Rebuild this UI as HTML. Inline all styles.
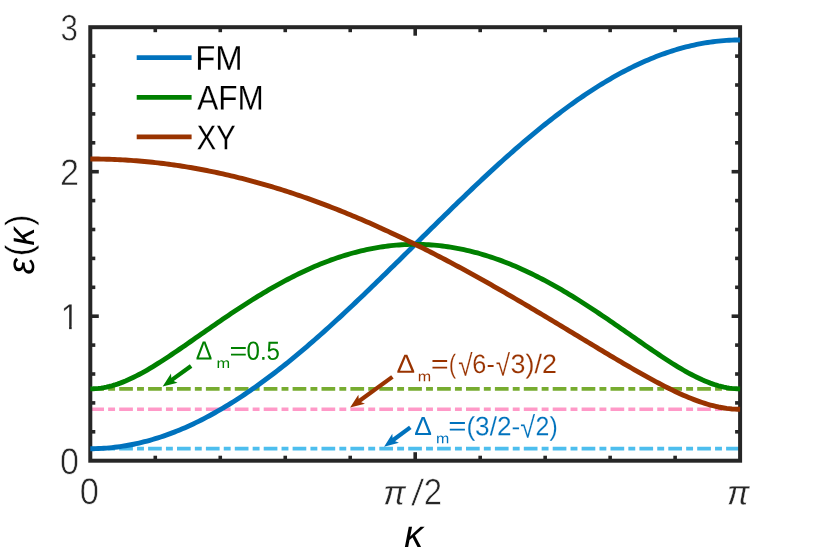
<!DOCTYPE html>
<html lang="en"><head><meta charset="utf-8"><title>Dispersion</title>
<style>
html,body{margin:0;padding:0;background:#fff;}
body{width:830px;height:553px;overflow:hidden;}
svg{display:block;will-change:transform;}
text{font-family:"Liberation Sans",sans-serif;}
</style></head>
<body>
<svg width="830" height="553" viewBox="0 0 830 553">
<rect x="0" y="0" width="830" height="553" fill="#fff"/>
<!-- dash-dot reference lines -->
<g fill="none" stroke-width="3.7" stroke-dasharray="13.7 4.15 6.9 4.15">
<line x1="90.3" y1="388.85" x2="740.1" y2="388.85" stroke="#77AC30"/>
<line x1="90.3" y1="409.27" x2="740.1" y2="409.27" stroke="#FF99C8"/>
<line x1="90.3" y1="448.70" x2="740.1" y2="448.70" stroke="#4DBEEE"/>
</g>
<!-- axes box and ticks -->
<g stroke="#262626" stroke-width="3.6" fill="none">
<line x1="155.28" y1="460.7" x2="155.28" y2="455.70"/>
<line x1="155.28" y1="27.2" x2="155.28" y2="32.20"/>
<line x1="220.26" y1="460.7" x2="220.26" y2="455.70"/>
<line x1="220.26" y1="27.2" x2="220.26" y2="32.20"/>
<line x1="285.24" y1="460.7" x2="285.24" y2="455.70"/>
<line x1="285.24" y1="27.2" x2="285.24" y2="32.20"/>
<line x1="350.22" y1="460.7" x2="350.22" y2="455.70"/>
<line x1="350.22" y1="27.2" x2="350.22" y2="32.20"/>
<line x1="415.20" y1="460.7" x2="415.20" y2="452.20"/>
<line x1="415.20" y1="27.2" x2="415.20" y2="35.70"/>
<line x1="480.18" y1="460.7" x2="480.18" y2="455.70"/>
<line x1="480.18" y1="27.2" x2="480.18" y2="32.20"/>
<line x1="545.16" y1="460.7" x2="545.16" y2="455.70"/>
<line x1="545.16" y1="27.2" x2="545.16" y2="32.20"/>
<line x1="610.14" y1="460.7" x2="610.14" y2="455.70"/>
<line x1="610.14" y1="27.2" x2="610.14" y2="32.20"/>
<line x1="675.12" y1="460.7" x2="675.12" y2="455.70"/>
<line x1="675.12" y1="27.2" x2="675.12" y2="32.20"/>
<line x1="90.3" y1="431.80" x2="95.30" y2="431.80"/>
<line x1="740.1" y1="431.80" x2="735.10" y2="431.80"/>
<line x1="90.3" y1="402.90" x2="95.30" y2="402.90"/>
<line x1="740.1" y1="402.90" x2="735.10" y2="402.90"/>
<line x1="90.3" y1="374.00" x2="95.30" y2="374.00"/>
<line x1="740.1" y1="374.00" x2="735.10" y2="374.00"/>
<line x1="90.3" y1="345.10" x2="95.30" y2="345.10"/>
<line x1="740.1" y1="345.10" x2="735.10" y2="345.10"/>
<line x1="90.3" y1="316.20" x2="98.80" y2="316.20"/>
<line x1="740.1" y1="316.20" x2="731.60" y2="316.20"/>
<line x1="90.3" y1="287.30" x2="95.30" y2="287.30"/>
<line x1="740.1" y1="287.30" x2="735.10" y2="287.30"/>
<line x1="90.3" y1="258.40" x2="95.30" y2="258.40"/>
<line x1="740.1" y1="258.40" x2="735.10" y2="258.40"/>
<line x1="90.3" y1="229.50" x2="95.30" y2="229.50"/>
<line x1="740.1" y1="229.50" x2="735.10" y2="229.50"/>
<line x1="90.3" y1="200.60" x2="95.30" y2="200.60"/>
<line x1="740.1" y1="200.60" x2="735.10" y2="200.60"/>
<line x1="90.3" y1="171.70" x2="98.80" y2="171.70"/>
<line x1="740.1" y1="171.70" x2="731.60" y2="171.70"/>
<line x1="90.3" y1="142.80" x2="95.30" y2="142.80"/>
<line x1="740.1" y1="142.80" x2="735.10" y2="142.80"/>
<line x1="90.3" y1="113.90" x2="95.30" y2="113.90"/>
<line x1="740.1" y1="113.90" x2="735.10" y2="113.90"/>
<line x1="90.3" y1="85.00" x2="95.30" y2="85.00"/>
<line x1="740.1" y1="85.00" x2="735.10" y2="85.00"/>
<line x1="90.3" y1="56.10" x2="95.30" y2="56.10"/>
<line x1="740.1" y1="56.10" x2="735.10" y2="56.10"/>
</g>
<rect x="90.3" y="27.2" width="649.80" height="433.50" fill="none" stroke="#262626" stroke-width="4"/>
<!-- curves -->
<g fill="none" stroke-width="4.9" stroke-linejoin="round" stroke-linecap="butt">
<path d="M90.30,448.70 L93.01,448.69 L95.72,448.63 L98.42,448.55 L101.13,448.42 L103.84,448.27 L106.55,448.07 L109.25,447.85 L111.96,447.58 L114.67,447.29 L117.38,446.96 L120.08,446.59 L122.79,446.19 L125.50,445.75 L128.20,445.28 L130.91,444.78 L133.62,444.24 L136.33,443.66 L139.03,443.06 L141.74,442.42 L144.45,441.74 L147.16,441.03 L149.87,440.29 L152.57,439.51 L155.28,438.70 L157.99,437.86 L160.69,436.98 L163.40,436.07 L166.11,435.13 L168.82,434.16 L171.52,433.15 L174.23,432.11 L176.94,431.04 L179.65,429.93 L182.36,428.80 L185.06,427.63 L187.77,426.43 L190.48,425.20 L193.19,423.94 L195.89,422.65 L198.60,421.33 L201.31,419.97 L204.01,418.59 L206.72,417.18 L209.43,415.74 L212.14,414.26 L214.84,412.76 L217.55,411.23 L220.26,409.68 L222.97,408.09 L225.68,406.47 L228.38,404.83 L231.09,403.16 L233.80,401.47 L236.50,399.74 L239.21,397.99 L241.92,396.21 L244.63,394.41 L247.34,392.58 L250.04,390.73 L252.75,388.85 L255.46,386.95 L258.17,385.02 L260.87,383.07 L263.58,381.09 L266.29,379.09 L269.00,377.07 L271.70,375.02 L274.41,372.95 L277.12,370.86 L279.82,368.75 L282.53,366.62 L285.24,364.47 L287.95,362.29 L290.66,360.10 L293.36,357.88 L296.07,355.65 L298.78,353.40 L301.49,351.12 L304.19,348.83 L306.90,346.53 L309.61,344.20 L312.31,341.86 L315.02,339.50 L317.73,337.12 L320.44,334.73 L323.15,332.33 L325.85,329.90 L328.56,327.47 L331.27,325.02 L333.98,322.55 L336.68,320.07 L339.39,317.58 L342.10,315.08 L344.81,312.56 L347.51,310.04 L350.22,307.50 L352.93,304.95 L355.64,302.39 L358.34,299.82 L361.05,297.24 L363.76,294.65 L366.47,292.06 L369.17,289.45 L371.88,286.84 L374.59,284.22 L377.30,281.59 L380.00,278.96 L382.71,276.32 L385.42,273.67 L388.13,271.02 L390.83,268.37 L393.54,265.71 L396.25,263.05 L398.96,260.38 L401.66,257.72 L404.37,255.05 L407.08,252.37 L409.79,249.70 L412.49,247.02 L415.20,244.35 L417.91,241.68 L420.62,239.00 L423.32,236.33 L426.03,233.65 L428.74,230.98 L431.44,228.32 L434.15,225.65 L436.86,222.99 L439.57,220.33 L442.28,217.68 L444.98,215.03 L447.69,212.38 L450.40,209.74 L453.11,207.11 L455.81,204.48 L458.52,201.86 L461.23,199.25 L463.94,196.64 L466.64,194.05 L469.35,191.46 L472.06,188.88 L474.77,186.31 L477.47,183.75 L480.18,181.20 L482.89,178.66 L485.60,176.14 L488.30,173.62 L491.01,171.12 L493.72,168.63 L496.43,166.15 L499.13,163.68 L501.84,161.23 L504.55,158.80 L507.26,156.37 L509.96,153.97 L512.67,151.58 L515.38,149.20 L518.09,146.84 L520.79,144.50 L523.50,142.17 L526.21,139.87 L528.92,137.58 L531.62,135.30 L534.33,133.05 L537.04,130.82 L539.75,128.60 L542.45,126.41 L545.16,124.23 L547.87,122.08 L550.58,119.95 L553.28,117.84 L555.99,115.75 L558.70,113.68 L561.40,111.63 L564.11,109.61 L566.82,107.61 L569.53,105.63 L572.24,103.68 L574.94,101.75 L577.65,99.85 L580.36,97.97 L583.07,96.12 L585.77,94.29 L588.48,92.49 L591.19,90.71 L593.89,88.96 L596.60,87.23 L599.31,85.54 L602.02,83.87 L604.73,82.23 L607.43,80.61 L610.14,79.02 L612.85,77.47 L615.55,75.94 L618.26,74.44 L620.97,72.96 L623.68,71.52 L626.38,70.11 L629.09,68.73 L631.80,67.37 L634.51,66.05 L637.22,64.76 L639.92,63.50 L642.63,62.27 L645.34,61.07 L648.04,59.90 L650.75,58.77 L653.46,57.66 L656.17,56.59 L658.88,55.55 L661.58,54.54 L664.29,53.57 L667.00,52.63 L669.70,51.72 L672.41,50.84 L675.12,50.00 L677.83,49.19 L680.53,48.41 L683.24,47.67 L685.95,46.96 L688.66,46.28 L691.37,45.64 L694.07,45.04 L696.78,44.46 L699.49,43.92 L702.19,43.42 L704.90,42.95 L707.61,42.51 L710.32,42.11 L713.03,41.74 L715.73,41.41 L718.44,41.12 L721.15,40.85 L723.86,40.63 L726.56,40.43 L729.27,40.28 L731.98,40.15 L734.68,40.07 L737.39,40.01 L740.10,40.00" stroke="#0072BD"/>
<path d="M90.30,388.85 L93.01,388.80 L95.72,388.65 L98.42,388.41 L101.13,388.06 L103.84,387.62 L106.55,387.09 L109.25,386.47 L111.96,385.76 L114.67,384.96 L117.38,384.08 L120.08,383.13 L122.79,382.09 L125.50,380.99 L128.20,379.82 L130.91,378.58 L133.62,377.28 L136.33,375.93 L139.03,374.52 L141.74,373.06 L144.45,371.56 L147.16,370.01 L149.87,368.42 L152.57,366.80 L155.28,365.14 L157.99,363.45 L160.69,361.74 L163.40,359.99 L166.11,358.23 L168.82,356.44 L171.52,354.63 L174.23,352.81 L176.94,350.97 L179.65,349.12 L182.36,347.26 L185.06,345.39 L187.77,343.51 L190.48,341.63 L193.19,339.74 L195.89,337.85 L198.60,335.96 L201.31,334.07 L204.01,332.18 L206.72,330.29 L209.43,328.41 L212.14,326.53 L214.84,324.65 L217.55,322.79 L220.26,320.93 L222.97,319.08 L225.68,317.24 L228.38,315.41 L231.09,313.59 L233.80,311.78 L236.50,309.99 L239.21,308.21 L241.92,306.45 L244.63,304.70 L247.34,302.96 L250.04,301.24 L252.75,299.54 L255.46,297.86 L258.17,296.20 L260.87,294.55 L263.58,292.92 L266.29,291.32 L269.00,289.73 L271.70,288.17 L274.41,286.62 L277.12,285.10 L279.82,283.60 L282.53,282.13 L285.24,280.68 L287.95,279.25 L290.66,277.84 L293.36,276.46 L296.07,275.11 L298.78,273.78 L301.49,272.47 L304.19,271.20 L306.90,269.94 L309.61,268.72 L312.31,267.52 L315.02,266.35 L317.73,265.21 L320.44,264.09 L323.15,263.01 L325.85,261.95 L328.56,260.92 L331.27,259.92 L333.98,258.95 L336.68,258.01 L339.39,257.10 L342.10,256.22 L344.81,255.36 L347.51,254.54 L350.22,253.75 L352.93,252.99 L355.64,252.27 L358.34,251.57 L361.05,250.90 L363.76,250.27 L366.47,249.67 L369.17,249.09 L371.88,248.56 L374.59,248.05 L377.30,247.57 L380.00,247.13 L382.71,246.72 L385.42,246.34 L388.13,246.00 L390.83,245.68 L393.54,245.41 L396.25,245.16 L398.96,244.94 L401.66,244.76 L404.37,244.61 L407.08,244.50 L409.79,244.42 L412.49,244.37 L415.20,244.35 L417.91,244.37 L420.62,244.42 L423.32,244.50 L426.03,244.61 L428.74,244.76 L431.44,244.94 L434.15,245.16 L436.86,245.41 L439.57,245.68 L442.28,246.00 L444.98,246.34 L447.69,246.72 L450.40,247.13 L453.11,247.57 L455.81,248.05 L458.52,248.56 L461.23,249.09 L463.94,249.67 L466.64,250.27 L469.35,250.90 L472.06,251.57 L474.77,252.27 L477.47,252.99 L480.18,253.75 L482.89,254.54 L485.60,255.36 L488.30,256.22 L491.01,257.10 L493.72,258.01 L496.43,258.95 L499.13,259.92 L501.84,260.92 L504.55,261.95 L507.26,263.01 L509.96,264.09 L512.67,265.21 L515.38,266.35 L518.09,267.52 L520.79,268.72 L523.50,269.94 L526.21,271.20 L528.92,272.47 L531.62,273.78 L534.33,275.11 L537.04,276.46 L539.75,277.84 L542.45,279.25 L545.16,280.68 L547.87,282.13 L550.58,283.60 L553.28,285.10 L555.99,286.62 L558.70,288.17 L561.40,289.73 L564.11,291.32 L566.82,292.92 L569.53,294.55 L572.24,296.20 L574.94,297.86 L577.65,299.54 L580.36,301.24 L583.07,302.96 L585.77,304.70 L588.48,306.45 L591.19,308.21 L593.89,309.99 L596.60,311.78 L599.31,313.59 L602.02,315.41 L604.73,317.24 L607.43,319.08 L610.14,320.93 L612.85,322.79 L615.55,324.65 L618.26,326.53 L620.97,328.41 L623.68,330.29 L626.38,332.18 L629.09,334.07 L631.80,335.96 L634.51,337.85 L637.22,339.74 L639.92,341.63 L642.63,343.51 L645.34,345.39 L648.04,347.26 L650.75,349.12 L653.46,350.97 L656.17,352.81 L658.88,354.63 L661.58,356.44 L664.29,358.23 L667.00,359.99 L669.70,361.74 L672.41,363.45 L675.12,365.14 L677.83,366.80 L680.53,368.42 L683.24,370.01 L685.95,371.56 L688.66,373.06 L691.37,374.52 L694.07,375.93 L696.78,377.28 L699.49,378.58 L702.19,379.82 L704.90,380.99 L707.61,382.09 L710.32,383.13 L713.03,384.08 L715.73,384.96 L718.44,385.76 L721.15,386.47 L723.86,387.09 L726.56,387.62 L729.27,388.06 L731.98,388.41 L734.68,388.65 L737.39,388.80 L740.10,388.85" stroke="#008000"/>
<path d="M90.30,158.98 L93.01,158.99 L95.72,159.01 L98.42,159.04 L101.13,159.08 L103.84,159.14 L106.55,159.21 L109.25,159.29 L111.96,159.39 L114.67,159.49 L117.38,159.61 L120.08,159.74 L122.79,159.89 L125.50,160.04 L128.20,160.21 L130.91,160.40 L133.62,160.59 L136.33,160.80 L139.03,161.02 L141.74,161.25 L144.45,161.49 L147.16,161.75 L149.87,162.02 L152.57,162.30 L155.28,162.59 L157.99,162.90 L160.69,163.22 L163.40,163.55 L166.11,163.89 L168.82,164.25 L171.52,164.62 L174.23,165.00 L176.94,165.39 L179.65,165.79 L182.36,166.21 L185.06,166.64 L187.77,167.08 L190.48,167.54 L193.19,168.00 L195.89,168.48 L198.60,168.97 L201.31,169.47 L204.01,169.99 L206.72,170.51 L209.43,171.05 L212.14,171.60 L214.84,172.16 L217.55,172.74 L220.26,173.32 L222.97,173.92 L225.68,174.53 L228.38,175.15 L231.09,175.79 L233.80,176.43 L236.50,177.09 L239.21,177.76 L241.92,178.44 L244.63,179.13 L247.34,179.83 L250.04,180.55 L252.75,181.28 L255.46,182.02 L258.17,182.77 L260.87,183.53 L263.58,184.30 L266.29,185.08 L269.00,185.88 L271.70,186.68 L274.41,187.50 L277.12,188.33 L279.82,189.17 L282.53,190.02 L285.24,190.89 L287.95,191.76 L290.66,192.64 L293.36,193.54 L296.07,194.45 L298.78,195.36 L301.49,196.29 L304.19,197.23 L306.90,198.18 L309.61,199.14 L312.31,200.11 L315.02,201.09 L317.73,202.08 L320.44,203.09 L323.15,204.10 L325.85,205.12 L328.56,206.16 L331.27,207.20 L333.98,208.25 L336.68,209.32 L339.39,210.39 L342.10,211.48 L344.81,212.57 L347.51,213.68 L350.22,214.79 L352.93,215.92 L355.64,217.05 L358.34,218.19 L361.05,219.35 L363.76,220.51 L366.47,221.68 L369.17,222.86 L371.88,224.06 L374.59,225.26 L377.30,226.47 L380.00,227.69 L382.71,228.92 L385.42,230.15 L388.13,231.40 L390.83,232.66 L393.54,233.92 L396.25,235.19 L398.96,236.48 L401.66,237.77 L404.37,239.07 L407.08,240.38 L409.79,241.69 L412.49,243.02 L415.20,244.35 L417.91,245.69 L420.62,247.04 L423.32,248.40 L426.03,249.77 L428.74,251.14 L431.44,252.52 L434.15,253.91 L436.86,255.31 L439.57,256.71 L442.28,258.12 L444.98,259.54 L447.69,260.97 L450.40,262.41 L453.11,263.85 L455.81,265.30 L458.52,266.75 L461.23,268.21 L463.94,269.68 L466.64,271.16 L469.35,272.64 L472.06,274.13 L474.77,275.63 L477.47,277.13 L480.18,278.64 L482.89,280.15 L485.60,281.67 L488.30,283.20 L491.01,284.73 L493.72,286.27 L496.43,287.81 L499.13,289.36 L501.84,290.91 L504.55,292.47 L507.26,294.03 L509.96,295.60 L512.67,297.17 L515.38,298.75 L518.09,300.33 L520.79,301.92 L523.50,303.51 L526.21,305.11 L528.92,306.71 L531.62,308.31 L534.33,309.92 L537.04,311.53 L539.75,313.14 L542.45,314.76 L545.16,316.37 L547.87,318.00 L550.58,319.62 L553.28,321.25 L555.99,322.88 L558.70,324.51 L561.40,326.14 L564.11,327.77 L566.82,329.41 L569.53,331.05 L572.24,332.68 L574.94,334.32 L577.65,335.96 L580.36,337.60 L583.07,339.24 L585.77,340.87 L588.48,342.51 L591.19,344.14 L593.89,345.78 L596.60,347.41 L599.31,349.04 L602.02,350.66 L604.73,352.29 L607.43,353.91 L610.14,355.52 L612.85,357.14 L615.55,358.74 L618.26,360.34 L620.97,361.94 L623.68,363.53 L626.38,365.11 L629.09,366.68 L631.80,368.25 L634.51,369.81 L637.22,371.35 L639.92,372.89 L642.63,374.41 L645.34,375.93 L648.04,377.42 L650.75,378.91 L653.46,380.38 L656.17,381.83 L658.88,383.26 L661.58,384.68 L664.29,386.07 L667.00,387.45 L669.70,388.80 L672.41,390.12 L675.12,391.42 L677.83,392.70 L680.53,393.94 L683.24,395.15 L685.95,396.32 L688.66,397.46 L691.37,398.56 L694.07,399.63 L696.78,400.65 L699.49,401.62 L702.19,402.55 L704.90,403.42 L707.61,404.25 L710.32,405.02 L713.03,405.73 L715.73,406.38 L718.44,406.98 L721.15,407.50 L723.86,407.96 L726.56,408.36 L729.27,408.68 L731.98,408.94 L734.68,409.12 L737.39,409.23 L740.10,409.27" stroke="#993300"/>
</g>
<!-- legend -->
<g stroke-width="4.8" fill="none">
<line x1="136.7" y1="57.6" x2="191.6" y2="57.6" stroke="#0072BD"/>
<line x1="136.7" y1="97.4" x2="191.6" y2="97.4" stroke="#008000"/>
<line x1="136.7" y1="136.8" x2="191.6" y2="136.8" stroke="#993300"/>
</g>
<!-- arrows -->
<line x1="191.10" y1="366.00" x2="169.04" y2="381.86" stroke="#008000" stroke-width="4.2"/><path d="M162.65,386.45 L170.99,373.56 L171.47,380.11 L177.53,382.65 Z" fill="#008000"/>
<line x1="392.40" y1="376.90" x2="356.47" y2="402.98" stroke="#993300" stroke-width="4.2"/><path d="M350.10,407.60 L358.38,394.67 L358.90,401.22 L364.96,403.73 Z" fill="#993300"/>
<line x1="410.30" y1="427.40" x2="390.43" y2="442.03" stroke="#0072BD" stroke-width="4.2"/><path d="M384.10,446.70 L392.29,433.71 L392.85,440.25 L398.93,442.73 Z" fill="#0072BD"/>
<!-- text -->
<text transform="translate(60.41,40.50) scale(0.8510,1) rotate(0.03)" font-size="36.86" fill="#262626" stroke="#fff" stroke-width="0.60" vector-effect="non-scaling-stroke">3</text>
<text transform="translate(59.89,185.00) scale(0.9281,1) rotate(0.03)" font-size="36.86" fill="#262626" stroke="#fff" stroke-width="0.60" vector-effect="non-scaling-stroke">2</text>
<clipPath id="c1"><path d="M0,-36.43 L14.57,-36.43 L14.57,-3.28 L12.22,-3.28 L12.22,0.73 L9.31,0.73 L9.31,-3.28 L0,-3.28 Z"/></clipPath><g transform="translate(60.70,329.25) scale(0.9000,1) rotate(0.03)"><g clip-path="url(#c1)"><text font-size="36.43" fill="#262626" stroke="#fff" stroke-width="0.30">1</text></g></g>
<text transform="translate(59.97,474.00) scale(0.9232,1) rotate(0.03)" font-size="36.86" fill="#262626" stroke="#fff" stroke-width="0.60" vector-effect="non-scaling-stroke">0</text>
<text transform="translate(79.86,504.00) scale(0.9345,1) rotate(0.03)" font-size="36.86" fill="#262626" stroke="#fff" stroke-width="0.60" vector-effect="non-scaling-stroke">0</text>
<text transform="translate(383.18,504.55) scale(0.9727,1) rotate(0.03)" font-size="34.43" fill="#262626" font-style="italic" stroke="#fff" stroke-width="0.30" vector-effect="non-scaling-stroke">π</text>
<text transform="translate(411.10,505.60) skewX(-5.88) rotate(0.03)" font-size="36.86" fill="#262626" stroke="#fff" stroke-width="0.60" vector-effect="non-scaling-stroke">/</text>
<text transform="translate(423.66,504.60) scale(0.8924,1) rotate(0.03)" font-size="36.86" fill="#262626" stroke="#fff" stroke-width="0.60" vector-effect="non-scaling-stroke">2</text>
<text transform="translate(727.08,504.55) scale(0.9727,1) rotate(0.03)" font-size="34.43" fill="#262626" font-style="italic" stroke="#fff" stroke-width="0.30" vector-effect="non-scaling-stroke">π</text>
<text transform="translate(404.30,547.00) scale(0.9803,1) rotate(0.03)" font-size="38.4" fill="#000" font-style="italic">κ</text>
<text transform="translate(195.22,69.67) scale(0.9626,1) rotate(0.03)" font-size="34.21" fill="#000" stroke="#fff" stroke-width="0.15" vector-effect="non-scaling-stroke">FM</text>
<text transform="translate(197.36,109.48) scale(0.9208,1) rotate(0.03)" font-size="34.21" fill="#000" stroke="#fff" stroke-width="0.15" vector-effect="non-scaling-stroke">AFM</text>
<text transform="translate(196.78,149.27) scale(0.8509,1) rotate(0.03)" font-size="34.21" fill="#000" stroke="#fff" stroke-width="0.15" vector-effect="non-scaling-stroke">XY</text>
<text transform="translate(195.68,359.60) scale(0.9428,1) rotate(0.03)" font-size="26.3" fill="#008000">Δ</text>
<text transform="translate(216.42,368.30) scale(1.1536,1) rotate(0.03)" font-size="14.2" fill="#008000">m</text>
<text transform="translate(229.54,359.80) scale(1.1555,1) rotate(0.03)" font-size="26.3" fill="#008000">=</text>
<text transform="translate(246.56,359.80) scale(0.9143,1) rotate(0.03)" font-size="26.3" fill="#008000">0.5</text>
<text transform="translate(396.50,372.80) scale(1.0551,1) rotate(0.03)" font-size="26.3" fill="#993300">Δ</text>
<text transform="translate(417.84,381.30) scale(1.1336,1) rotate(0.03)" font-size="14.2" fill="#993300">m</text>
<text transform="translate(430.95,372.80) scale(1.1477,1) rotate(0.03)" font-size="26.3" fill="#993300">=</text>
<text transform="translate(449.11,372.88) scale(0.8012,1) rotate(0.03)" font-size="26.51" fill="#993300" stroke="#fff" stroke-width="0.15" vector-effect="non-scaling-stroke">(</text>
<text transform="translate(458.20,375.38) scale(0.8739,1) rotate(0.03)" font-size="29.81" fill="#993300" stroke="#fff" stroke-width="0.15" vector-effect="non-scaling-stroke">√</text>
<text transform="translate(472.36,372.88) scale(0.9513,1) rotate(0.03)" font-size="26.51" fill="#993300" stroke="#fff" stroke-width="0.15" vector-effect="non-scaling-stroke">6-</text>
<text transform="translate(495.80,375.38) scale(0.8739,1) rotate(0.03)" font-size="29.81" fill="#993300" stroke="#fff" stroke-width="0.15" vector-effect="non-scaling-stroke">√</text>
<text transform="translate(510.60,372.88) scale(1.0140,1) rotate(0.03)" font-size="26.51" fill="#993300" stroke="#fff" stroke-width="0.15" vector-effect="non-scaling-stroke">3)/2</text>
<text transform="translate(414.33,435.10) scale(1.0052,1) rotate(0.03)" font-size="26.3" fill="#0072BD">Δ</text>
<text transform="translate(435.95,443.30) scale(1.1236,1) rotate(0.03)" font-size="14.2" fill="#0072BD">m</text>
<text transform="translate(448.30,435.10) scale(1.1867,1) rotate(0.03)" font-size="26.3" fill="#0072BD">=</text>
<text transform="translate(466.40,435.18) scale(0.9875,1) rotate(0.03)" font-size="26.51" fill="#0072BD" stroke="#fff" stroke-width="0.15" vector-effect="non-scaling-stroke">(3/2-</text>
<text transform="translate(520.28,437.38) scale(0.9059,1) rotate(0.03)" font-size="29.81" fill="#0072BD" stroke="#fff" stroke-width="0.15" vector-effect="non-scaling-stroke">√</text>
<text transform="translate(535.58,435.18) scale(0.9394,1) rotate(0.03)" font-size="26.51" fill="#0072BD" stroke="#fff" stroke-width="0.15" vector-effect="non-scaling-stroke">2)</text>
<g transform="translate(34,273.7) rotate(-90)"><text transform="translate(-0.58,0.00) scale(0.9497,1) rotate(0.03)" font-size="38.4" fill="#000" font-style="italic">ε</text><text transform="translate(17.33,-2.65) scale(0.9339,1) rotate(0.03)" font-size="36.63" fill="#000" stroke="#fff" stroke-width="0.30" vector-effect="non-scaling-stroke">(</text><text transform="translate(28.23,0.00) scale(0.9357,1) rotate(0.03)" font-size="38.4" fill="#000" font-style="italic">κ</text><text transform="translate(47.98,-2.65) scale(0.9032,1) rotate(0.03)" font-size="36.63" fill="#000" stroke="#fff" stroke-width="0.30" vector-effect="non-scaling-stroke">)</text></g>
</svg>
</body></html>
